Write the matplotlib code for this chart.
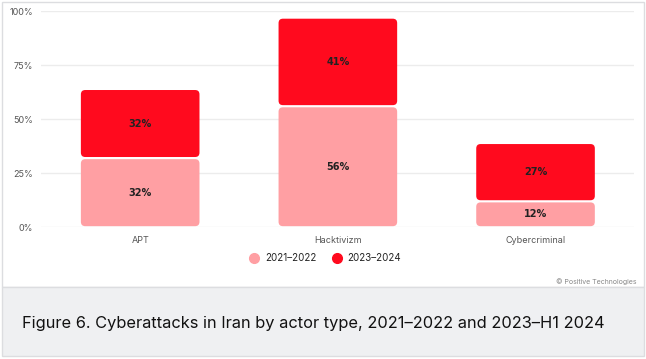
import matplotlib.pyplot as plt
from matplotlib.patches import FancyBboxPatch, Rectangle
from matplotlib.lines import Line2D

categories = ["APT", "Hacktivizm", "Cybercriminal"]
early = [32, 56, 12]
late = [32, 41, 27]
series_names = ["2021–2022", "2023–2024"]
yticks = [0, 25, 50, 75, 100]

light = "#ff9fa3"
dark = "#ff0a1e"

plt.rcParams['font.family'] = ['Inter', 'DejaVu Sans']

fig = plt.figure(figsize=(6.46, 3.59), dpi=100)

# white panel and grey caption strip, kept behind the axes
fig.patches.append(Rectangle((0.003, 0.2), 0.994, 0.795, transform=fig.transFigure,
                             facecolor="white", edgecolor="#dcdde0", lw=1, zorder=-5))
fig.patches.append(Rectangle((0.003, 0.008), 0.994, 0.192, transform=fig.transFigure,
                             facecolor="#eff0f2", edgecolor="#dcdde0", lw=1, zorder=-5))

ax = fig.add_axes([0.064, 0.367, 0.918, 0.602])
ax.set_facecolor("none")
ax.set_xlim(-0.5, 2.5)
ax.set_ylim(0, 100)

x = range(len(categories))
b1 = ax.bar(x, early, width=0.6, color=light)
b2 = ax.bar(x, late, width=0.6, bottom=early, color=dark)

# swap plain bars for rounded ones
for bars, col in ((b1, light), (b2, dark)):
    for r in bars:
        r.set_visible(False)
        gap = 0.5
        p = FancyBboxPatch((r.get_x(), r.get_y() + gap), r.get_width(), r.get_height() - 2 * gap,
                           boxstyle="round,pad=0,rounding_size=0.022",
                           mutation_aspect=92, facecolor=col, edgecolor="none")
        ax.add_patch(p)

for i in x:
    ax.text(i, early[i] / 2, f"{early[i]}%", ha="center", va="center",
            fontsize=7, fontweight="bold", color="#222222", family="DejaVu Sans")
    ax.text(i, early[i] + late[i] / 2, f"{late[i]}%", ha="center", va="center",
            fontsize=7, fontweight="bold", color="#222222", family="DejaVu Sans")

ax.set_yticks(yticks)
ax.set_yticklabels([f"{t}%" for t in yticks])
ax.set_xticks(list(x))
ax.set_xticklabels(categories)
ax.tick_params(length=0, labelsize=6.5, labelcolor="#555555", pad=6)
ax.grid(axis="y", color="#ececec", lw=1)
ax.set_axisbelow(True)
for s in ax.spines.values():
    s.set_visible(False)

handles = [Line2D([], [], marker="o", ls="none", color=c, markersize=7) for c in (light, dark)]
fig.legend(handles, series_names, loc="center", bbox_to_anchor=(0.5, 0.28), ncol=2,
           frameon=False, fontsize=7, handletextpad=0.1, columnspacing=1.1,
           labelcolor="#222222")

fig.text(0.985, 0.215, "© Positive Technologies", ha="right", va="center",
         fontsize=5, color="#888888")
fig.text(0.034, 0.1, "Figure 6. Cyberattacks in Iran by actor type, 2021–2022 and 2023–H1 2024",
         ha="left", va="center", fontsize=11.8, color="#111111")

fig.savefig("out.png", dpi=100)
